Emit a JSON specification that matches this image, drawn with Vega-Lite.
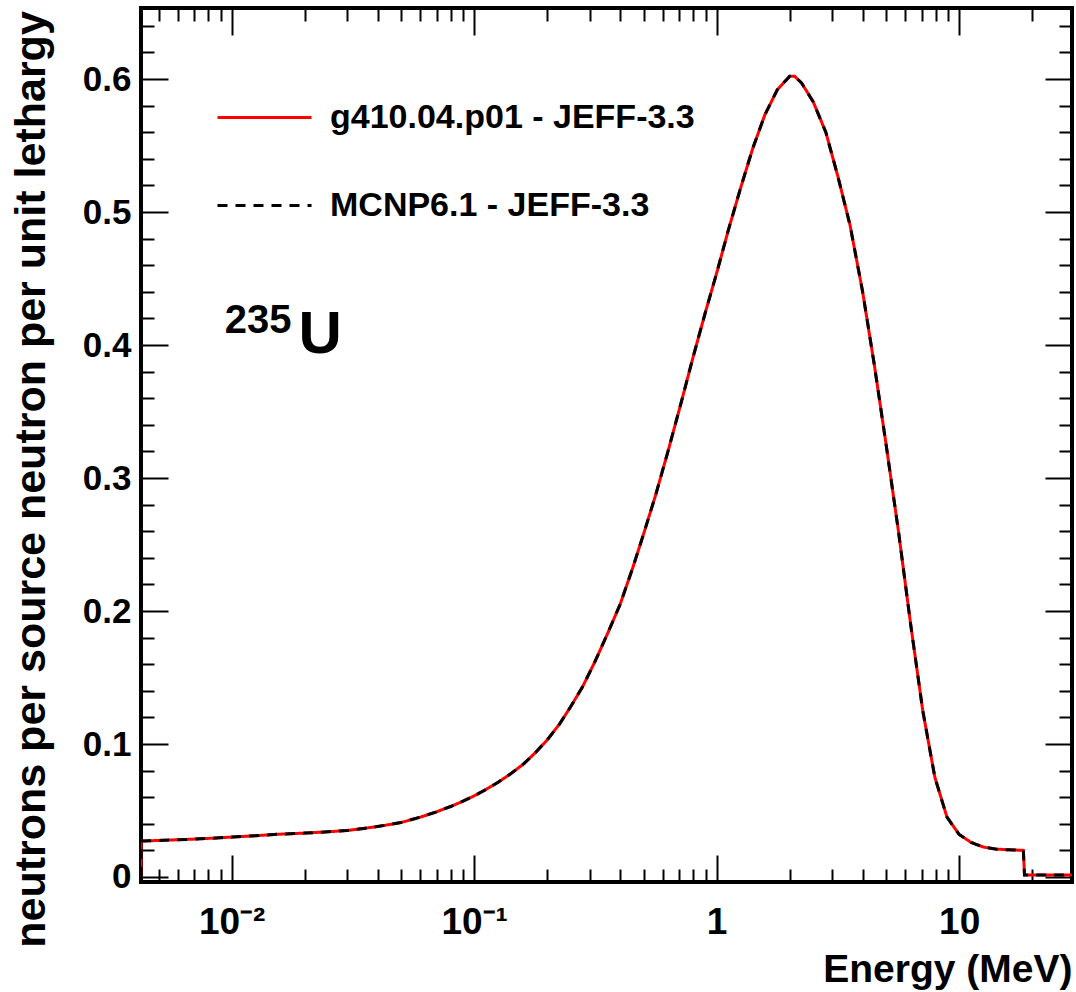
{
  "$schema": "https://vega.github.io/schema/vega-lite/v6.json",
  "width": 931,
  "height": 874,
  "autosize": {"type": "none"},
  "padding": {"left": 141, "top": 8, "right": 4, "bottom": 110},
  "background": "white",
  "config": {"view": {"stroke": "black", "strokeWidth": 4}, "font": "Liberation Sans"},
  "datasets": {"spectrum": [
    {"E": 0.00423, "g410": 0, "mcnp": 0},
    {"E": 0.004231, "g410": 0.027, "mcnp": 0.027},
    {"E": 0.005, "g410": 0.0275, "mcnp": 0.0275},
    {"E": 0.006, "g410": 0.028, "mcnp": 0.028},
    {"E": 0.007, "g410": 0.0285, "mcnp": 0.0285},
    {"E": 0.008, "g410": 0.029, "mcnp": 0.029},
    {"E": 0.01, "g410": 0.030, "mcnp": 0.030},
    {"E": 0.0125, "g410": 0.031, "mcnp": 0.031},
    {"E": 0.015, "g410": 0.032, "mcnp": 0.032},
    {"E": 0.02, "g410": 0.033, "mcnp": 0.033},
    {"E": 0.025, "g410": 0.034, "mcnp": 0.034},
    {"E": 0.03, "g410": 0.035, "mcnp": 0.035},
    {"E": 0.035, "g410": 0.0365, "mcnp": 0.0365},
    {"E": 0.04, "g410": 0.038, "mcnp": 0.038},
    {"E": 0.045, "g410": 0.0395, "mcnp": 0.0395},
    {"E": 0.05, "g410": 0.041, "mcnp": 0.041},
    {"E": 0.06, "g410": 0.045, "mcnp": 0.045},
    {"E": 0.07, "g410": 0.049, "mcnp": 0.049},
    {"E": 0.08, "g410": 0.053, "mcnp": 0.053},
    {"E": 0.09, "g410": 0.057, "mcnp": 0.057},
    {"E": 0.1, "g410": 0.061, "mcnp": 0.061},
    {"E": 0.11, "g410": 0.065, "mcnp": 0.065},
    {"E": 0.125, "g410": 0.071, "mcnp": 0.071},
    {"E": 0.14, "g410": 0.077, "mcnp": 0.077},
    {"E": 0.16, "g410": 0.085, "mcnp": 0.085},
    {"E": 0.18, "g410": 0.094, "mcnp": 0.094},
    {"E": 0.2, "g410": 0.103, "mcnp": 0.103},
    {"E": 0.225, "g410": 0.115, "mcnp": 0.115},
    {"E": 0.25, "g410": 0.128, "mcnp": 0.128},
    {"E": 0.28, "g410": 0.143, "mcnp": 0.143},
    {"E": 0.315, "g410": 0.162, "mcnp": 0.162},
    {"E": 0.355, "g410": 0.183, "mcnp": 0.183},
    {"E": 0.4, "g410": 0.205, "mcnp": 0.205},
    {"E": 0.45, "g410": 0.232, "mcnp": 0.232},
    {"E": 0.5, "g410": 0.258, "mcnp": 0.258},
    {"E": 0.56, "g410": 0.287, "mcnp": 0.287},
    {"E": 0.63, "g410": 0.32, "mcnp": 0.32},
    {"E": 0.71, "g410": 0.355, "mcnp": 0.355},
    {"E": 0.8, "g410": 0.391, "mcnp": 0.391},
    {"E": 0.9, "g410": 0.425, "mcnp": 0.425},
    {"E": 1.0, "g410": 0.454, "mcnp": 0.454},
    {"E": 1.12, "g410": 0.487, "mcnp": 0.487},
    {"E": 1.26, "g410": 0.519, "mcnp": 0.519},
    {"E": 1.41, "g410": 0.548, "mcnp": 0.548},
    {"E": 1.58, "g410": 0.573, "mcnp": 0.573},
    {"E": 1.78, "g410": 0.592, "mcnp": 0.592},
    {"E": 2.0, "g410": 0.602, "mcnp": 0.602},
    {"E": 2.1, "g410": 0.602, "mcnp": 0.602},
    {"E": 2.24, "g410": 0.597, "mcnp": 0.597},
    {"E": 2.5, "g410": 0.583, "mcnp": 0.583},
    {"E": 2.82, "g410": 0.56, "mcnp": 0.56},
    {"E": 3.16, "g410": 0.527, "mcnp": 0.527},
    {"E": 3.55, "g410": 0.49, "mcnp": 0.49},
    {"E": 4.0, "g410": 0.44, "mcnp": 0.44},
    {"E": 4.47, "g410": 0.385, "mcnp": 0.385},
    {"E": 5.0, "g410": 0.325, "mcnp": 0.325},
    {"E": 5.62, "g410": 0.26, "mcnp": 0.26},
    {"E": 6.31, "g410": 0.19, "mcnp": 0.19},
    {"E": 7.08, "g410": 0.125, "mcnp": 0.125},
    {"E": 7.94, "g410": 0.075, "mcnp": 0.075},
    {"E": 8.91, "g410": 0.045, "mcnp": 0.045},
    {"E": 10.0, "g410": 0.032, "mcnp": 0.032},
    {"E": 11.2, "g410": 0.026, "mcnp": 0.026},
    {"E": 12.6, "g410": 0.0225, "mcnp": 0.0225},
    {"E": 14.1, "g410": 0.021, "mcnp": 0.021},
    {"E": 15.8, "g410": 0.0205, "mcnp": 0.0205},
    {"E": 18.4, "g410": 0.020, "mcnp": 0.020},
    {"E": 18.6, "g410": 0.0015, "mcnp": 0.0015},
    {"E": 29.2, "g410": 0.0015, "mcnp": 0.0015}
  ]},
  "layer": [
    {
      "data": {"name": "spectrum"},
      "transform": [{"fold": ["g410", "mcnp"], "as": ["series", "v"]}, {"filter": "datum.series == 'g410'"}],
      "mark": {"type": "line", "strokeWidth": 3, "clip": true},
      "encoding": {
        "x": {"field": "E", "type": "quantitative",
          "scale": {"type": "log", "domain": [0.00423, 29.2], "nice": false, "zero": false},
          "axis": {
            "orient": "bottom",
            "values": [0.005,0.006,0.007,0.008,0.009,0.01,0.02,0.03,0.04,0.05,0.06,0.07,0.08,0.09,0.1,0.2,0.3,0.4,0.5,0.6,0.7,0.8,0.9,1,2,3,4,5,6,7,8,9,10,20],
            "labelExpr": "datum.value == 0.01 ? '10⁻²' : datum.value == 0.1 ? '10⁻¹' : datum.value == 1 ? '1' : datum.value == 10 ? '10' : ''",
            "tickSize": {"condition": {"test": "datum.value == 0.01 || datum.value == 0.1 || datum.value == 1 || datum.value == 10", "value": -27}, "value": -13},
            "tickColor": "black", "tickWidth": 2, "domain": false, "grid": false,
            "labelFont": "Liberation Sans", "labelFontWeight": "bold", "labelFontSize": 37, "labelColor": "black",
            "labelPadding": 49, "labelOverlap": false, "labelFlush": false, "labelBound": false,
            "title": "Energy (MeV)", "titleFont": "Liberation Sans", "titleFontWeight": "bold", "titleFontSize": 39, "titleColor": "black",
            "titleAnchor": "end", "titleAlign": "right", "titleX": 931, "titleY": 99, "titleBaseline": "alphabetic"
          }},
        "y": {"field": "v", "type": "quantitative",
          "scale": {"domain": [-0.00376, 0.6534], "nice": false, "zero": false},
          "axis": {
            "orient": "left",
            "values": [0,0.02,0.04,0.06,0.08,0.1,0.12,0.14,0.16,0.18,0.2,0.22,0.24,0.26,0.28,0.3,0.32,0.34,0.36,0.38,0.4,0.42,0.44,0.46,0.48,0.5,0.52,0.54,0.56,0.58,0.6,0.62,0.64],
            "labelExpr": "abs(datum.value*10 - round(datum.value*10)) < 0.001 ? (datum.value == 0 ? '0' : format(datum.value, '.1f')) : ''",
            "tickSize": {"condition": {"test": "abs(datum.value*10 - round(datum.value*10)) < 0.001", "value": -27}, "value": -13},
            "tickColor": "black", "tickWidth": 2, "domain": false, "grid": false,
            "labelFont": "Liberation Sans", "labelFontWeight": "bold", "labelFontSize": 35, "labelColor": "black",
            "labelPadding": 37, "labelOverlap": false, "labelFlush": false, "labelBound": false,
            "title": "neutrons per source neutron per unit lethargy", "titleFont": "Liberation Sans", "titleFontWeight": "bold", "titleFontSize": 43, "titleColor": "black",
            "titleAngle": 270, "titleAlign": "center", "titleBaseline": "alphabetic", "titleX": -97, "titleY": 471
          }},
        "color": {"field": "series", "type": "nominal",
          "scale": {"domain": ["g410", "mcnp"], "range": ["#ff0000", "#000000"]},
          "legend": {"orient": "none", "legendX": 75, "legendY": 61, "title": null,
            "symbolType": "stroke", "symbolSize": 8836, "symbolStrokeWidth": 3,
            "labelFont": "Liberation Sans", "labelFontWeight": "bold", "labelFontSize": 34, "labelColor": "black",
            "labelOffset": 17, "rowPadding": 22, "labelLimit": 0,
            "labelExpr": "datum.value == 'g410' ? 'g410.04.p01 - JEFF-3.3' : 'MCNP6.1 - JEFF-3.3'"}},
        "strokeDash": {"field": "series", "type": "nominal",
          "scale": {"domain": ["g410", "mcnp"], "range": [[1, 0], [10, 8]]},
          "legend": {"orient": "none", "legendX": 75, "legendY": 61, "title": null,
            "symbolType": "stroke", "symbolSize": 8836, "symbolStrokeWidth": 3,
            "labelFont": "Liberation Sans", "labelFontWeight": "bold", "labelFontSize": 34, "labelColor": "black",
            "labelOffset": 17, "rowPadding": 22, "labelLimit": 0,
            "labelExpr": "datum.value == 'g410' ? 'g410.04.p01 - JEFF-3.3' : 'MCNP6.1 - JEFF-3.3'"}}
      }
    },
    {
      "data": {"name": "spectrum"},
      "transform": [{"fold": ["g410", "mcnp"], "as": ["series", "v"]}, {"filter": "datum.series == 'mcnp'"}],
      "mark": {"type": "line", "strokeWidth": 3, "clip": true},
      "encoding": {
        "x": {"field": "E", "type": "quantitative", "scale": {"type": "log", "domain": [0.00423, 29.2], "nice": false, "zero": false}, "axis": null},
        "y": {"field": "v", "type": "quantitative", "scale": {"domain": [-0.00376, 0.6534], "nice": false, "zero": false}, "axis": null},
        "color": {"field": "series", "type": "nominal"},
        "strokeDash": {"field": "series", "type": "nominal"}
      }
    },
    {
      "data": {"values": [{}]},
      "mark": {"type": "text", "text": "235", "font": "Liberation Sans", "fontWeight": "bold", "fontSize": 40, "align": "left", "baseline": "alphabetic", "color": "black"},
      "encoding": {
        "x": {"datum": 0.00936, "type": "quantitative", "scale": {"type": "log", "domain": [0.00423, 29.2], "nice": false, "zero": false},
          "axis": {"orient": "top", "values": [0.005,0.006,0.007,0.008,0.009,0.01,0.02,0.03,0.04,0.05,0.06,0.07,0.08,0.09,0.1,0.2,0.3,0.4,0.5,0.6,0.7,0.8,0.9,1,2,3,4,5,6,7,8,9,10,20],
            "labels": false, "title": null, "domain": false, "grid": false, "tickColor": "black", "tickWidth": 2,
            "tickSize": {"condition": {"test": "datum.value == 0.01 || datum.value == 0.1 || datum.value == 1 || datum.value == 10", "value": -27}, "value": -13}}},
        "y": {"datum": 0.409, "type": "quantitative", "scale": {"domain": [-0.00376, 0.6534], "nice": false, "zero": false},
          "axis": {"orient": "right", "values": [0,0.02,0.04,0.06,0.08,0.1,0.12,0.14,0.16,0.18,0.2,0.22,0.24,0.26,0.28,0.3,0.32,0.34,0.36,0.38,0.4,0.42,0.44,0.46,0.48,0.5,0.52,0.54,0.56,0.58,0.6,0.62,0.64],
            "labels": false, "title": null, "domain": false, "grid": false, "tickColor": "black", "tickWidth": 2,
            "tickSize": {"condition": {"test": "abs(datum.value*10 - round(datum.value*10)) < 0.001", "value": -27}, "value": -13}}}
      }
    },
    {
      "data": {"values": [{}]},
      "mark": {"type": "text", "text": "U", "font": "Liberation Sans", "fontWeight": "bold", "fontSize": 60, "align": "left", "baseline": "alphabetic", "color": "black"},
      "encoding": {
        "x": {"datum": 0.01889, "type": "quantitative", "scale": {"type": "log", "domain": [0.00423, 29.2], "nice": false, "zero": false}, "axis": null},
        "y": {"datum": 0.394, "type": "quantitative", "scale": {"domain": [-0.00376, 0.6534], "nice": false, "zero": false}, "axis": null}
      }
    }
  ],
  "resolve": {"axis": {"x": "independent", "y": "independent"}}
}
